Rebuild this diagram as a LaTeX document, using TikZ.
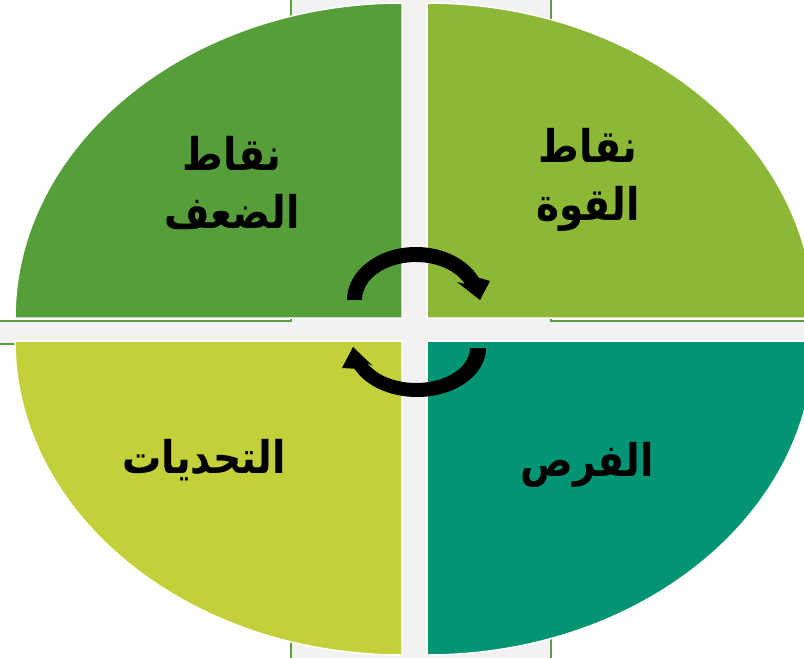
\documentclass[tikz,border=0pt]{standalone}
\usepackage{fontspec}
\TeXXeTstate=1
\newfontfamily\arabicfont[Script=Arabic]{DejaVu Sans}
\definecolor{cUL}{HTML}{559E3A}
\definecolor{cUR}{HTML}{8CB836}
\definecolor{cLL}{HTML}{C3D03A}
\definecolor{cLR}{HTML}{029574}
\definecolor{cgray}{HTML}{F2F2F2}
\definecolor{cline}{HTML}{55A03C}
\newcommand{\arline}[1]{\scalebox{0.87}[1]{\beginR #1\endR}}
\tikzset{
  quad/.style={draw=white, line width=1.5pt},
  lbl/.style={font=\arabicfont\bfseries\fontsize{45}{58}\selectfont, text=black, align=center, inner sep=0pt},
  cyc/.style={fill=black}
}
\begin{document}
\begin{tikzpicture}[x=1pt,y=-1pt]
\useasboundingbox (0,0) rectangle (804,657);
\fill[white] (0,0) rectangle (804,657);
% plus shaped background
\filldraw[fill=cgray, draw=cline, line width=1.5pt]
  (291,-5) -- (551,-5) -- (551,321) -- (810,321) -- (810,344) -- (551,344)
  -- (551,662) -- (291,662) -- (291,344) -- (-5,344) -- (-5,321) -- (291,321) -- cycle;
% quadrants
\path[quad, fill=cUL] (402,318) -- (15,318) arc[start angle=180, end angle=270, x radius=387, y radius=315] -- cycle;
\path[quad, fill=cUR] (427,318) -- (427,3) arc[start angle=270, end angle=360, x radius=387, y radius=315] -- cycle;
\path[quad, fill=cLR] (427,341) -- (814,341) arc[start angle=0, end angle=90, x radius=387, y radius=314] -- cycle;
\path[quad, fill=cLL] (402,341) -- (402,655) arc[start angle=90, end angle=180, x radius=387, y radius=314] -- cycle;
% circular arrows
\fill[cyc] (347,300) arc[start angle=180, end angle=335, x radius=69, y radius=53]
  -- (490,281) -- (480,300) -- (457,282) -- (464.9,283.9)
  arc[start angle=335, end angle=180, x radius=54, y radius=38] -- cycle;
\fill[cyc] (486,348) arc[start angle=0, end angle=155, x radius=69, y radius=49]
  -- (342,368) -- (353,347) -- (373,366) -- (367.1,362.8)
  arc[start angle=155, end angle=0, x radius=54, y radius=35] -- cycle;
% labels
\node[lbl] (weak) at (232,183) {\arline{نقاط}\\\arline{الضعف}};
\node[lbl] (strong) at (588,180) {\arline{نقاط}\\\arline{القوة}};
\node[lbl] (threat) at (204,460) {\arline{التحديات}};
\node[lbl] (opp) at (587,465) {\arline{الفرص}};
\end{tikzpicture}
\end{document}
